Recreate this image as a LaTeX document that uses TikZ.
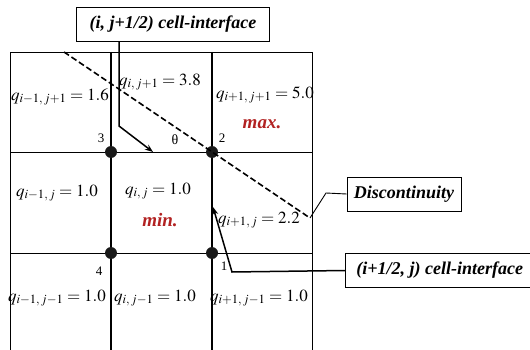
\documentclass[tikz,border=0pt]{standalone}
\usepackage{mathptmx}
\usepackage{fontspec}
\setmainfont{Liberation Serif}
\usepackage{xcolor}
\usetikzlibrary{arrows.meta}

\definecolor{tagred}{RGB}{178,34,34}

\begin{document}
\begin{tikzpicture}[
    x=1pt, y=-1pt,
    every node/.style={inner sep=0pt},
    cellval/.style={font=\fontsize{17}{17}\selectfont},
    tag/.style={font=\fontsize{19}{19}\selectfont\bfseries\itshape, text=tagred},
    corner/.style={font=\fontsize{13}{13}\selectfont},
    vertex/.style={circle, fill=black!90, minimum size=12pt},
    callout/.style={draw, line width=0.8pt, fill=white,
                    font=\fontsize{18}{18}\selectfont\bfseries\itshape,
                    minimum height=34pt},
    gridline/.style={line width=0.8pt},
    inner line/.style={line width=1.2pt},
    pointer/.style={line width=1.5pt, -{Stealth[length=8pt, width=6pt]}},
    leader/.style={line width=0.9pt},
]
\clip (0,0) rectangle (530,350);

% mesh
\draw[gridline] (10,350) -- (10,52) -- (312,52) -- (312,350);
\draw[gridline] (10,152) -- (312,152);
\draw[gridline] (10,253) -- (312,253);
\draw[inner line] (111,52) -- (111,350);
\draw[inner line] (212,52) -- (212,350);

% corner points of cell (i,j)
\node[vertex] (v2) at (212,152) {};
\node[vertex] (v3) at (111,152) {};
\node[vertex] (v4) at (111,253) {};
\node[vertex] (v1) at (212,253) {};
\node[corner] at (101,138) {3};
\node[corner] at (222,138) {2};
\node[corner] at (99,271) {4};
\node[corner] at (224,266) {1};
\node[corner, font=\fontsize{14}{14}\selectfont] (theta) at (175,140) {θ};

% cell values
\node[cellval] (qnw) at (60,97)  {$q_{i-1,\,j+1}=1.6$};
\node[cellval] (qn)  at (160,82) {$q_{i,\,j+1}=3.8$};
\node[cellval] (qne) at (265,95) {$q_{i+1,\,j+1}=5.0$};
\node[tag]     (tmax) at (262,124) {max.};
\node[cellval] (qw)  at (57,193)  {$q_{i-1,\,j}=1.0$};
\node[cellval] (qc)  at (158,191) {$q_{i,\,j}=1.0$};
\node[tag]     (tmin) at (160,220) {min.};
\node[cellval] (qe)  at (259,220) {$q_{i+1,\,j}=2.2$};
\node[cellval] (qsw) at (57,298)  {$q_{i-1,\,j-1}=1.0$};
\node[cellval] (qs)  at (155,298) {$q_{i,\,j-1}=1.0$};
\node[cellval] (qse) at (259,298) {$q_{i+1,\,j-1}=1.0$};

% discontinuity
\coordinate (dtop) at (64,52);
\coordinate (dend) at (310,218);
\draw[line width=1.6pt, dash pattern=on 6pt off 3pt] (dtop) -- (dend);

% call-outs
\node[callout, minimum width=193pt] (ifacetop) at (173,24.5) {(i, j+1/2) cell-interface};
\node[callout, minimum width=114pt] (disc) at (404,194) {Discontinuity};
\node[callout, anchor=west, inner xsep=11pt, minimum width=200pt, align=left]
    (ifaceright) at (345,270.5) {(i+1/2, j) cell-interface\hspace*{20pt}};

\coordinate (tbend) at (119,126);
\coordinate (ttip) at (153,152);
\draw[pointer] (ifacetop.south -| tbend) -- (tbend) -- (ttip);

\coordinate (rbend) at (232,272);
\coordinate (rtip) at (213,207);
\draw[pointer] (ifaceright.west) -- (rbend) -- (rtip);

\coordinate (dbend) at (326,193);
\draw[leader] (dend) -- (dbend) -- (disc.west);

\end{tikzpicture}
\end{document}
